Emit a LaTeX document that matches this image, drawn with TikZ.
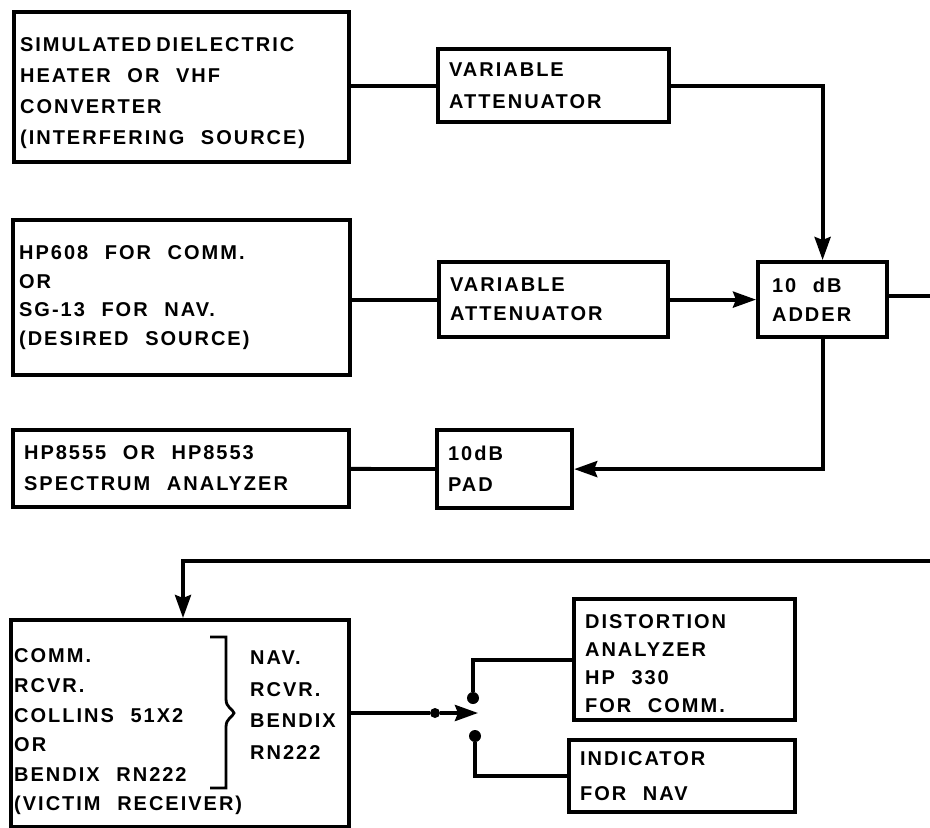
\documentclass[tikz,border=0pt]{standalone}
\usepackage{fontspec}
\usetikzlibrary{arrows.meta,positioning}
\newfontfamily\letterfont{Liberation Sans}[LetterSpace=10,WordSpace=2.2]
\newcommand\lettering[1]{\letterfont\bfseries\fontsize{20}{#1}\selectfont}
\tikzset{
  boxy/.style     = {draw, line width=4.2pt, anchor=north west, align=flush left,
                     inner xsep=11pt, inner ysep=0pt},
  textonly/.style = {align=left, inner sep=0pt},
  wire/.style     = {line width=3.8pt},
  flow/.style     = {wire, -{Stealth[length=23pt,width=16pt,inset=3pt]}},
  tapdot/.style   = {circle, fill, inner sep=0pt, minimum size=12pt},
}

\begin{document}
\begin{tikzpicture}[x=1pt,y=-1pt]
    \useasboundingbox (0,0) rectangle (930,828);
    % sources and attenuators
    \node[boxy,inner xsep=6pt,text width=323pt,minimum height=150pt,text height=26.5pt,font=\lettering{31}] (isrc) at (12,10)
      {SIMULATED\hspace{5pt}DIELECTRIC\\HEATER OR VHF\\CONVERTER\\(INTERFERING SOURCE)};
    \node[boxy,text width=209pt,minimum height=73pt,font=\lettering{32}] (att1) at (436,47) {VARIABLE\\ATTENUATOR};
    \node[boxy,inner xsep=6pt,text width=325pt,minimum height=155pt,font=\lettering{28.5}] (dsrc) at (11,218)
      {HP608 FOR COMM.\\OR\\SG-13 FOR NAV.\\(DESIRED SOURCE)};
    \node[boxy,text width=207pt,minimum height=75pt,font=\lettering{29}] (att2) at (437,260) {VARIABLE\\ATTENUATOR};
    \node[boxy,inner xsep=14pt,text width=101pt,minimum height=75pt,font=\lettering{29}] (adder) at (756,260) {10 dB\\ADDER};
    \node[boxy,text width=314pt,minimum height=77pt,font=\lettering{31}] (spec) at (11,428) {HP8555 OR HP8553\\SPECTRUM ANALYZER};
    \node[boxy,text width=113pt,minimum height=78pt,font=\lettering{31}] (pad) at (435,428) {10dB\\PAD};
    % receiver and its loads
    \node[boxy,minimum width=338pt,minimum height=207pt] (rcvr) at (9,618) {};
    \node[textonly,anchor=west,font=\lettering{29.6}] (commtxt) at (14,732)
      {COMM.\\RCVR.\\COLLINS 51X2\\OR\\BENDIX RN222\\(VICTIM RECEIVER)};
    \node[textonly,anchor=west,font=\lettering{31.7}] (navtxt) at (250,705) {NAV.\\RCVR.\\BENDIX\\RN222};
    \node[boxy,text width=199pt,minimum height=121pt,text height=22.5pt,font=\lettering{28}] (dist) at (572,597)
      {DISTORTION\\ANALYZER\\HP 330\\FOR COMM.};
    \node[boxy,text width=204pt,minimum height=72pt,font=\lettering{35}] (ind) at (567,738) {INDICATOR\\FOR NAV};
    \draw[line width=2.8pt] (210,637) -- (226,637) -- (226,699) .. controls (226,708) and (233,709) .. (234,713)
      .. controls (233,717) and (226,718) .. (226,727) -- (226,788) -- (210,788);
    % switch
    \node[tapdot,minimum size=10pt] (tap) at (435,713) {};
    \coordinate (swtip) at (478,713);
    \node[tapdot] (ctop) at (473,698) {};
    \node[tapdot] (cbot) at (475,736) {};
    \coordinate (aout) at (932,296);
    \coordinate (rin) at (932,561);
    % connections
    \draw[wire] (isrc.east |- att1) -- (att1);
    \draw[flow] (att1) -| (adder);
    \draw[wire] (dsrc.east |- att2) -- (att2);
    \draw[flow] (att2) -- (adder);
    \draw[wire] (adder.east |- aout) -- (aout);
    \draw[flow] (adder) |- (pad);
    \draw[wire] (spec) -- (pad);
    \draw[flow] (rin) -| ([xshift=174pt]rcvr.north west);
    \draw[wire] (tap -| rcvr.east) -- (tap);
    \draw[flow] (tap) -- (swtip);
    \draw[wire] (ctop) |- (dist);
    \draw[wire] (cbot) |- (ind);
\end{tikzpicture}
\end{document}
